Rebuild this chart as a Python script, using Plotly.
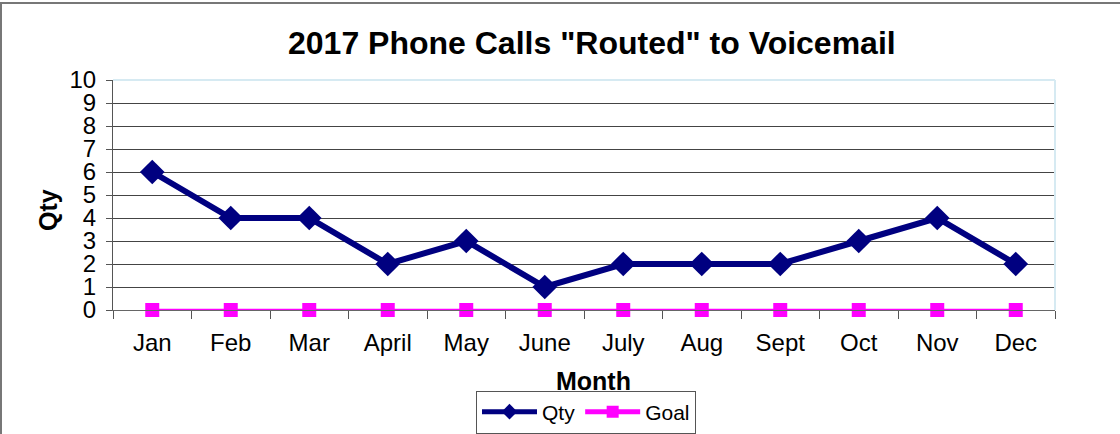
import plotly.graph_objects as go

months = ["Jan", "Feb", "Mar", "April", "May", "June", "July", "Aug", "Sept", "Oct", "Nov", "Dec"]
qty = [6, 4, 4, 2, 3, 1, 2, 2, 2, 3, 4, 2]
goal = [0, 0, 0, 0, 0, 0, 0, 0, 0, 0, 0, 0]

W, H = 1120, 434
L, R, T, B = 113, 65, 80, 124
pw, ph = W - L - R, H - T - B

def px(x):
    return (x - L) / pw

def py(y):
    return (H - B - y) / ph

FONT = "Liberation Sans, Arial, sans-serif"

fig = go.Figure()
fig.add_trace(go.Scatter(
    x=months, y=qty, name="Qty", mode="lines+markers",
    line=dict(color="#000080", width=6),
    marker=dict(symbol="diamond", size=19, color="#000080"),
))
fig.add_trace(go.Scatter(
    x=months, y=goal, name="Goal", mode="lines+markers",
    line=dict(color="#ff00ff", width=2.5),
    marker=dict(symbol="square", size=14, color="#ff00ff"),
    cliponaxis=False,
))

fig.update_layout(
    width=W, height=H,
    margin=dict(l=L, r=R, t=T, b=B, pad=0, autoexpand=False),
    paper_bgcolor="white", plot_bgcolor="white",
    font=dict(family=FONT, color="black", size=24),
    showlegend=True,
    legend=dict(
        orientation="h", xref="container", yref="container",
        x=586 / W, y=1 - 412 / H, xanchor="center", yanchor="middle",
        bordercolor="#555555", borderwidth=1, font=dict(size=21),
        itemwidth=55, tracegroupgap=0, itemsizing="constant",
    ),
    xaxis=dict(
        type="category", range=[-0.5, 11.5], showgrid=False,
        ticks="outside", tickson="boundaries", ticklen=8, tickcolor="#555555",
        showline=True, linecolor="#666666", linewidth=1,
        tickfont=dict(size=24), ticklabelstandoff=11,
    ),
    yaxis=dict(
        range=[0, 10], dtick=1, showgrid=True, gridcolor="#444444", gridwidth=1,
        ticks="outside", ticklen=6, tickcolor="#555555",
        showline=True, linecolor="#555555", linewidth=1,
        tickfont=dict(size=24), zeroline=False, ticklabelstandoff=5,
    ),
    shapes=[
        dict(type="line", xref="paper", yref="paper", x0=0, x1=1, y0=1, y1=1,
             line=dict(color="#d6eaf2", width=2)),
        dict(type="line", xref="paper", yref="paper", x0=1, x1=1, y0=0, y1=1,
             line=dict(color="#d6eaf2", width=2)),
        dict(type="line", xref="paper", yref="paper", x0=px(0), x1=px(W), y0=py(3), y1=py(3),
             line=dict(color="#777777", width=2)),
        dict(type="line", xref="paper", yref="paper", x0=px(1), x1=px(1), y0=py(3), y1=py(H),
             line=dict(color="#777777", width=2)),
    ],
    annotations=[
        dict(text="<b>2017 Phone Calls \"Routed\" to Voicemail</b>", xref="paper", yref="paper",
             x=px(592), y=py(43), xanchor="center", yanchor="middle", showarrow=False,
             font=dict(size=32, family=FONT)),
        dict(text="<b>Month</b>", xref="paper", yref="paper",
             x=px(593), y=py(381), xanchor="center", yanchor="middle", showarrow=False,
             font=dict(size=25, family=FONT)),
        dict(text="<b>Qty</b>", xref="paper", yref="paper", textangle=-90,
             x=px(48), y=py(210), xanchor="center", yanchor="middle", showarrow=False,
             font=dict(size=25, family=FONT)),
    ],
)

fig.write_html("out.html", config={"displayModeBar": False})
with open("out.html", "r", encoding="utf-8") as f:
    html = f.read()
html = html.replace("<head>", "<head><style>html,body{margin:0;padding:0;overflow:hidden;}</style>", 1)
with open("out.html", "w", encoding="utf-8") as f:
    f.write(html)
